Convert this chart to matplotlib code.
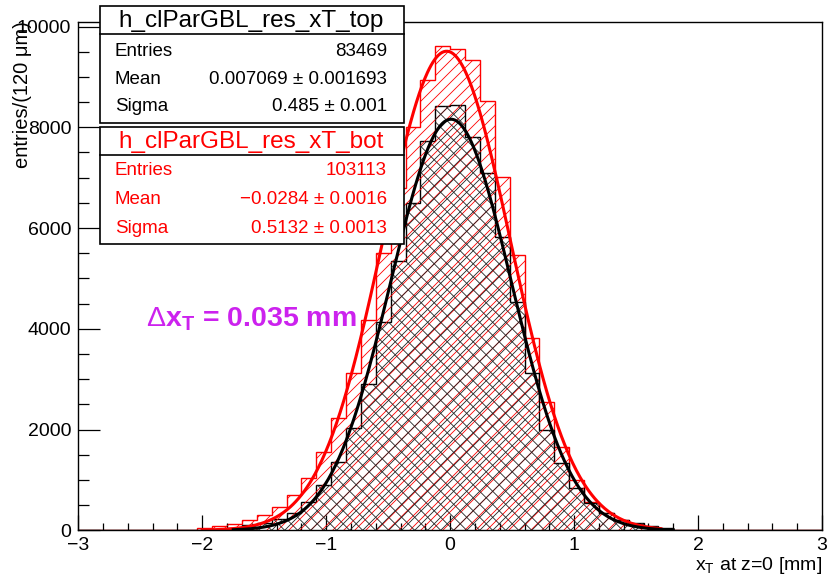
import numpy as np
import matplotlib
matplotlib.use("Agg")
import matplotlib.pyplot as plt
from matplotlib.patches import Rectangle
from matplotlib.collections import LineCollection
from matplotlib.ticker import MultipleLocator

plt.rcParams['font.family'] = ['Liberation Sans', 'DejaVu Sans']
plt.rcParams['mathtext.fontset'] = 'custom'
plt.rcParams['mathtext.rm'] = 'Liberation Sans'
plt.rcParams['mathtext.it'] = 'Liberation Sans:italic'
plt.rcParams['mathtext.bf'] = 'Liberation Sans:bold'

# histogram binning: 50 bins of 120 um
edges = np.linspace(-3, 3, 51)

# h_clParGBL_res_xT_top (black)
top_counts = [0, 0, 0, 0, 0, 0, 0, 0, 10, 25,
              55, 99, 151, 218, 349, 560, 890, 1350, 2040, 2905,
              4135, 5349, 6488, 7727, 8419, 8438, 7810, 7096, 5826, 4536,
              3115, 1990, 1329, 833, 548, 349, 204, 139, 80, 40,
              15, 0, 0, 0, 0, 0, 0, 0, 0, 0]

# h_clParGBL_res_xT_bot (red)
bot_counts = [0, 0, 0, 0, 0, 0, 0, 10, 55, 85,
              125, 204, 304, 468, 700, 1032, 1560, 2222, 3115, 4165,
              5500, 6800, 8008, 8934, 9615, 9550, 9331, 8518, 7016, 5462,
              3809, 2552, 1647, 1000, 568, 337, 200, 120, 60, 25,
              0, 0, 0, 0, 0, 0, 0, 0, 0, 0]

# gaussian fit results (amplitude, mean, sigma)
top_fit = (8160, 0.007069, 0.485)
bot_fit = (9510, -0.0284, 0.5132)

top_stats = [("Entries", "83469"), ("Mean", "0.007069 ± 0.001693"), ("Sigma", "0.485 ± 0.001")]
bot_stats = [("Entries", "103113"), ("Mean", "−0.0284 ± 0.0016"), ("Sigma", "0.5132 ± 0.0013")]

W, H = 829, 576
fig = plt.figure(figsize=(W / 100, H / 100), dpi=100)


def fx(x):
    return x / W


def fy(y):
    return 1 - y / H


AX_L, AX_R, AX_T, AX_B = 78.3, 822, 21.7, 530.3
AW, AH = AX_R - AX_L, AX_B - AX_T
ax = fig.add_axes([fx(AX_L), fy(AX_B), fx(AX_R) - fx(AX_L), fy(AX_T) - fy(AX_B)])


def hatch(patch, spacing, sign, offset, color):
    # diagonal lines in pixel space, clipped to the histogram area
    cs = np.arange(-AH - 2 * spacing, AW + AH + 2 * spacing, spacing) + offset
    segs = [[((c) / AW, 0), ((c + sign * AH) / AW, 1)] for c in cs]
    lc = LineCollection(segs, transform=ax.transAxes, colors=color, linewidths=0.6)
    ax.add_collection(lc)
    lc.set_clip_path(patch)


red_fill = ax.stairs(bot_counts, edges, fill=True, facecolor='none', linewidth=0)
blk_fill = ax.stairs(top_counts, edges, fill=True, facecolor='none', linewidth=0)
hatch(red_fill, 11.0, 1, 4.0, 'red')
hatch(blk_fill, 13.0, 1, 0.0, '#222222')
hatch(blk_fill, 13.0, -1, 0.0, '#222222')
ax.stairs(bot_counts, edges, color='red', linewidth=1.0)
ax.stairs(top_counts, edges, color='black', linewidth=1.0)


def gaus(p, lo, hi):
    a, m, s = p
    xs = np.linspace(lo, hi, 500)
    return xs, a * np.exp(-0.5 * ((xs - m) / s) ** 2)


xs, ys = gaus(bot_fit, -2.0, 1.7)
ax.plot(xs, ys, color='red', linewidth=2.2)
xs, ys = gaus(top_fit, -1.75, 1.8)
ax.plot(xs, ys, color='black', linewidth=2.2)

ax.set_xlim(-3, 3)
ax.set_ylim(0, max(bot_counts) * 1.05)
ax.xaxis.set_major_locator(MultipleLocator(1))
ax.xaxis.set_minor_locator(MultipleLocator(0.2))
ax.yaxis.set_major_locator(MultipleLocator(2000))
ax.yaxis.set_minor_locator(MultipleLocator(500))
ax.tick_params(axis='x', which='major', direction='in', length=10.8, width=0.9, labelsize=14, pad=5)
ax.tick_params(axis='x', which='minor', direction='in', length=5.4, width=0.9)
ax.tick_params(axis='y', which='major', direction='in', length=16, width=0.9, labelsize=14, pad=5)
ax.tick_params(axis='y', which='minor', direction='in', length=8, width=0.9)
for sp in ax.spines.values():
    sp.set_linewidth(1.0)

fig.text(fx(822), fy(566), r'x$_\mathrm{T}$ at z=0 [mm]', ha='right', va='center', fontsize=14)
fig.text(fx(23), fy(21), 'entries/(120 μm)', rotation=90, ha='center', va='top', fontsize=14.5)

ax.text(-2.45, 4050, r'$\Delta$x$_\mathbf{T}$ = 0.035 mm', color='#cc22ee', fontsize=20.5,
        fontweight='bold', ha='left', va='baseline')


def stats_box(y0, y_sep, y1, title, rows, row_y, color):
    fig.add_artist(Rectangle((fx(100), fy(y1)), fx(404) - fx(100), fy(y0) - fy(y1),
                             transform=fig.transFigure, facecolor='white', edgecolor='black',
                             linewidth=1.2, zorder=5))
    fig.add_artist(plt.Line2D([fx(100), fx(404)], [fy(y_sep), fy(y_sep)],
                              transform=fig.transFigure, color='black', linewidth=1.2, zorder=6))
    fig.text(fx(251), fy((y0 + y_sep) / 2 + 1), title, ha='center', va='center', fontsize=17.5,
             color=color, zorder=7)
    for (name, val), yc in zip(rows, row_y):
        fig.text(fx(115), fy(yc), name, ha='left', va='center', fontsize=13.5, color=color, zorder=7)
        fig.text(fx(387), fy(yc), val, ha='right', va='center', fontsize=13.5, color=color, zorder=7)


stats_box(6, 34.3, 122.7, "h_clParGBL_res_xT_top", top_stats, [51.7, 79.3, 106.7], 'black')
stats_box(126.7, 155, 244, "h_clParGBL_res_xT_bot", bot_stats, [170.7, 200, 228.7], 'red')

fig.savefig("out.png", dpi=100)
